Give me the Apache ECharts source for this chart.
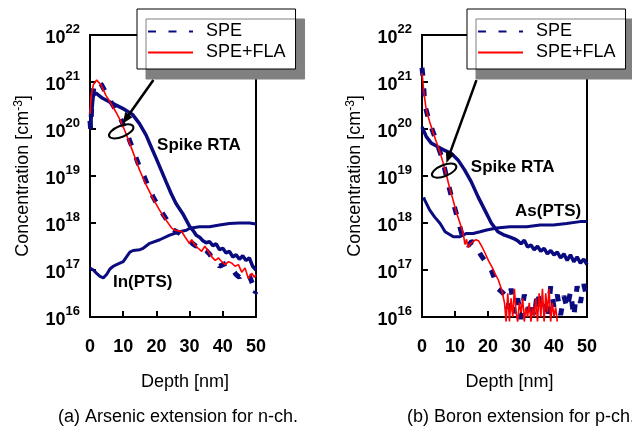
<!DOCTYPE html>
<html>
<head>
<meta charset="utf-8">
<script src="https://cdn.jsdelivr.net/npm/echarts@6/dist/echarts.min.js"></script>
<style>
  html, body { margin: 0; background: #fff; }
  #main { width: 632px; height: 427px; }
</style>
</head>
<body>
<div id="main"></div>
<script>
const FONT = '"Liberation Sans", Arial, sans-serif';
const NAVY = '#0b0b80';

const depthTicks = [0, 10, 20, 30, 40, 50];
const legendNames = ['SPE', 'SPE+FLA'];
const captions = ['(a) Arsenic extension for n-ch.', '(b) Boron extension for p-ch.'];

// (a) arsenic, depth [nm] vs concentration [cm-3]
const speA = [[0, 1.5e20], [0.2, 1e20], [0.6, 4e20], [1.2, 8e20], [2.3, 1.05e21], [3.5, 8.7e20], [5, 5.5e20], [6.5, 3.6e20], [8, 2.4e20], [9.5, 1.5e20], [11, 8.5e19], [13, 3.6e19], [15, 1.5e19], [16.4, 9.5e18], [17.5, 6e18], [19, 3.6e18], [21, 2e18], [23, 1.2e18], [24, 8.8e17], [25, 7.2e17], [26, 6.6e17], [27, 6e17], [28, 5.2e17], [29, 4.5e17], [30, 4.2e17], [31, 3.6e17], [32, 3.2e17], [33, 3.5e17], [34, 2.8e17], [35, 2.6e17], [36, 2.2e17], [37, 1.7e17], [38, 1.5e17], [39, 1.2e17], [40, 1.3e17], [41, 1.4e17], [42, 1.2e17], [43, 1e17], [44, 8e16], [45, 7e16], [46, 9e16], [47, 8e16], [48, 7.5e16], [49, 5e16], [49.5, 3e16], [50, 3.5e16]];
const flaA = [[0, 2.1e20], [0.3, 4.9e20], [1, 8.7e20], [2, 1.1e21], [3.3, 8.7e20], [4.8, 5.2e20], [6.3, 3.5e20], [7.8, 2.3e20], [9.3, 1.45e20], [10.8, 8.1e19], [12.9, 3.3e19], [14.9, 1.35e19], [16.9, 6.5e18], [18.9, 3.4e18], [20.9, 1.9e18], [22.9, 1.15e18], [24.6, 7.8e17], [25.6, 7e17], [26.6, 6.8e17], [27.6, 6.6e17], [28.6, 5.1e17], [29.1, 4.7e17], [29.9, 3.7e17], [30.6, 4.4e17], [31.6, 3.4e17], [32.6, 2.9e17], [33.6, 2.5e17], [34.6, 3.2e17], [35.6, 2.5e17], [36.7, 1.9e17], [37.7, 1.6e17], [38.7, 1.8e17], [39.7, 1.5e17], [40.7, 1.3e17], [41.7, 1.5e17], [42.7, 1.4e17], [43.7, 1.2e17], [44.7, 1.3e17], [45.7, 9e16], [46.7, 1.1e17], [47.7, 6.6e16], [48.7, 8.5e16], [49.5, 7e16], [50, 8e16]];
const spikeA = [[0.1, 1e20], [0.5, 2.2e20], [1, 5.2e20], [1.8, 5.8e20], [3.8, 4.5e20], [6.8, 3.5e20], [9.8, 2.75e20], [12.9, 2e20], [14.9, 1.3e20], [16.9, 7.4e19], [18.4, 4.2e19], [19.9, 2.4e19], [21.4, 1.35e19], [22.9, 7.6e18], [24.4, 4.3e18], [25.9, 2.6e18], [27.9, 1.6e18], [29, 1.15e18], [30, 8.5e17], [31, 7e17], [32, 5.5e17], [33, 5e17], [34, 4.2e17], [35, 3.8e17], [36, 4e17], [37, 3.3e17], [38, 3.6e17], [39, 2.7e17], [40, 2.9e17], [41, 2.3e17], [42, 2.5e17], [43, 1.9e17], [44, 2.1e17], [45, 1.7e17], [46, 2e17], [47, 1.6e17], [48, 1.8e17], [49, 1.2e17], [50, 1e17]];
const inPtsA = [[0, 1.1e17], [1, 1e17], [2, 8.5e16], [3, 7.3e16], [4, 6.8e16], [5, 8e16], [6, 1.05e17], [7, 1.2e17], [8, 1.3e17], [10, 1.5e17], [11, 1.9e17], [12, 2.4e17], [13, 2.6e17], [15, 2.7e17], [16, 2.9e17], [18, 3.7e17], [21, 4.4e17], [24, 5.5e17], [27, 6.5e17], [29, 7e17], [30, 7.7e17], [33, 8.3e17], [36, 8.3e17], [39, 9.1e17], [42, 9.8e17], [45, 1e18], [48, 1e18], [50, 9.5e17]];

// (b) boron
const speB = [[0, 2e21], [0.4, 1.1e21], [0.8, 3.5e20], [1.3, 2.5e20], [2, 1.6e20], [3, 1e20], [4, 6.5e19], [5, 4e19], [6, 2.5e19], [7, 1.3e19], [8, 6.5e18], [9, 3.5e18], [10, 2e18], [11, 1.1e18], [12, 6e17], [13, 4e17], [14, 3.3e17], [15, 4e17], [16, 3.8e17], [17, 2.6e17], [18, 2e17], [19, 1.6e17], [20, 1.3e17], [21, 1e17], [22, 6.5e16], [23, 4e16], [24, 3.5e16], [25, 3e16], [26, 1.5e16], [27, 4e16], [28, 1.2e16], [29, 2.5e16], [30, 9e15], [31, 3e16], [32, 1.3e16], [33, 2.2e16], [34, 1e16], [35, 3.5e16], [36, 1.5e16], [37, 2e16], [38, 9e15], [39, 4.5e16], [40, 1.6e16], [41, 3e16], [42, 1.1e16], [43, 2.8e16], [44, 1.5e16], [45, 3.5e16], [46, 1e16], [47, 4.5e16], [48, 2e16], [49, 5e16], [50, 2.5e16]];
const flaB = [[0, 1.55e21], [0.6, 5.8e20], [1.3, 2.5e20], [2.3, 1.45e20], [3.3, 8.7e19], [4.3, 5.4e19], [5.4, 3.3e19], [6.4, 1.9e19], [7.4, 1.05e19], [8.4, 5.5e18], [9.4, 3.1e18], [10.4, 1.7e18], [11.5, 1e18], [12.5, 6e17], [13, 3.5e17], [13.5, 4.5e17], [14, 3e17], [14.5, 3.5e17], [15.5, 4e17], [16.3, 4.4e17], [17.1, 4.2e17], [18.1, 3.2e17], [19.1, 2.3e17], [20.1, 1.6e17], [21.1, 1.2e17], [22.1, 8.5e16], [23.1, 6.2e16], [24.2, 3.7e16], [25, 2e16], [25.5, 8e15], [26, 3.2e16], [26.5, 8e15], [27, 2.5e16], [27.5, 1e16], [28, 4e16], [28.5, 1.25e16], [29, 8e15], [29.5, 2e16], [30, 1.25e16], [30.5, 2.5e16], [31, 8e15], [31.5, 1.6e16], [32, 1e16], [32.5, 2e16], [33, 8e15], [33.5, 1.6e16], [34, 1e16], [34.5, 2.5e16], [35, 8e15], [35.5, 3.2e16], [36, 1e16], [36.5, 4e16], [37, 8e15], [37.5, 3.2e16], [38, 1.25e16], [38.5, 4e16], [39, 8e15], [39.5, 2e16], [40, 1e16], [40.5, 1.6e16], [41, 8e15]];
const spikeB = [[0, 1.1e20], [1.3, 6.9e19], [2.8, 5e19], [4.8, 4.2e19], [6.9, 3.5e19], [8.9, 3e19], [10.9, 2.2e19], [12.9, 1.35e19], [14.9, 7.6e18], [17, 3.6e18], [19, 1.9e18], [21, 1e18], [23, 6.5e17], [25, 5.5e17], [26.7, 5e17], [28, 4.6e17], [29, 4.2e17], [30, 3.6e17], [31, 4.3e17], [32, 3.1e17], [33, 3.4e17], [34, 2.7e17], [35, 3.2e17], [36, 2.5e17], [37, 2.9e17], [38, 2.2e17], [39, 2.6e17], [40, 2.1e17], [41, 2.4e17], [42, 1.8e17], [43, 2.2e17], [44, 1.6e17], [45, 2.1e17], [46, 1.5e17], [47, 1.9e17], [48, 1.4e17], [49, 1.7e17], [50, 1.3e17]];
const asPtsB = [[0.5, 3.5e18], [0.8, 3.1e18], [2.3, 1.9e18], [3.8, 1.35e18], [5.5, 9.8e17], [7, 6.5e17], [9.5, 5.1e17], [11.5, 5.1e17], [13.5, 6e17], [15.5, 6e17], [17.6, 6.5e17], [19.6, 7.1e17], [22.6, 7.8e17], [26.7, 8.3e17], [31.7, 8.3e17], [35.8, 9.1e17], [39.8, 9.1e17], [43.8, 9.8e17], [47.9, 1.07e18], [50, 1.07e18]];

// annotations in data coordinates
const notes = [
  { grid: 0, text: 'Spike RTA', at: [20.2, 4.6e19] },
  { grid: 0, text: 'In(PTS)', at: [6.9, 5.5e16] },
  { grid: 1, text: 'Spike RTA', at: [14.8, 1.5e19] },
  { grid: 1, text: 'As(PTS)', at: [28.2, 1.8e18] }
];
const arrows = [
  { grid: 0, from: [19.1, 1.1e21], to: [9.8, 1.3e20], ring: [9.4, 8.9e19] },
  { grid: 1, from: [16.5, 1.1e21], to: [7.4, 1.9e19], ring: [6.7, 1.3e19] }
];

const chart = echarts.init(document.getElementById('main'), null, { renderer: 'canvas' });

const supRich = {
  b: { fontSize: 18, fontWeight: 'bold', fontFamily: FONT, color: '#000', lineHeight: 25, verticalAlign: 'bottom' },
  s: { fontSize: 13, fontWeight: 'bold', fontFamily: FONT, color: '#000', lineHeight: 25, verticalAlign: 'top' }
};

function xAxisFor(i, shift) {
  return {
    gridIndex: i, type: 'value', min: 0, max: 50, interval: 10,
    axisLine: { show: true, onZero: false, lineStyle: { color: '#000', width: 2 } },
    axisTick: { inside: true, length: 6, lineStyle: { color: '#000', width: 2 } },
    axisLabel: { margin: 21, fontSize: 18, fontWeight: 'bold', fontFamily: FONT, color: '#000',
      formatter: v => depthTicks.includes(v) ? String(v) : '' },
    splitLine: { show: false },
    name: 'Depth [nm]', nameLocation: 'middle', nameGap: 56,
    nameTextStyle: { fontSize: 18, fontFamily: FONT, color: '#000', padding: [0, 0, 0, shift] }
  };
}

function yAxisFor(i) {
  return {
    gridIndex: i, type: 'log', logBase: 10, min: 1e16, max: 1e22, splitNumber: 6,
    axisLine: { show: true, lineStyle: { color: '#000', width: 2 } },
    axisTick: { inside: true, length: 6, lineStyle: { color: '#000', width: 2 } },
    axisLabel: { margin: 10, formatter: v => '{b|10}{s|' + Math.round(Math.log10(v)) + '}', rich: supRich },
    splitLine: { show: false },
    name: 'Concentration [cm{s|-3}]', nameLocation: 'middle', nameRotate: 90, nameGap: 56,
    nameTextStyle: {
      fontSize: 18, fontFamily: FONT, color: '#000',
      rich: { s: { fontSize: 12, fontFamily: FONT, color: '#000', verticalAlign: 'top', lineHeight: 21 } }
    }
  };
}

function line(name, i, data, style, clip) {
  return {
    name, type: 'line', xAxisIndex: i, yAxisIndex: i, data,
    symbol: 'none', showSymbol: false, clip: clip !== false, animation: false,
    lineStyle: style, itemStyle: { color: style.color }
  };
}

const speStyle = { color: NAVY, width: 5, type: [8, 12.5], cap: 'butt' };
const flaStyle = { color: '#ff0000', width: 1.6 };
const spikeStyle = { color: NAVY, width: 3.5 };
const ptsStyle = { color: NAVY, width: 3 };

function legendAt(left) {
  return {
    data: legendNames, orient: 'vertical', left, top: 9,
    itemWidth: 45, itemHeight: 14, itemGap: 0,
    padding: [12, 10, 6, 10],
    backgroundColor: '#fff', borderColor: '#000', borderWidth: 1,
    shadowColor: '#808080', shadowBlur: 0, shadowOffsetX: 9, shadowOffsetY: 10,
    selectedMode: false,
    itemStyle: { color: 'transparent', borderColor: 'transparent', borderWidth: 0, opacity: 0 },
    textStyle: { fontSize: 18, fontFamily: FONT, color: '#000', lineHeight: 21, padding: [0, 0, 0, 8] }
  };
}

const captionStyle = { fontSize: 18, fontWeight: 'normal', fontFamily: FONT, color: '#000' };

const option = {
  animation: false,
  backgroundColor: '#fff',
  title: [
    { text: captions[0], left: 58, top: 408, padding: 0, textStyle: captionStyle },
    { text: captions[1], left: 407, top: 408, padding: 0, textStyle: captionStyle }
  ],
  legend: [legendAt(137), legendAt(467)],
  grid: [
    { left: 90, top: 35, width: 166, height: 282, show: true, borderColor: '#000', borderWidth: 2, backgroundColor: 'transparent' },
    { left: 422, top: 35, width: 165, height: 282, show: true, borderColor: '#000', borderWidth: 2, backgroundColor: 'transparent' }
  ],
  xAxis: [xAxisFor(0, 24), xAxisFor(1, 10)],
  yAxis: [yAxisFor(0), yAxisFor(1)],
  series: [
    line('Spike RTA (a)', 0, spikeA, spikeStyle),
    line('In(PTS)', 0, inPtsA, ptsStyle),
    line('SPE', 0, speA, speStyle),
    line('SPE+FLA', 0, flaA, flaStyle),
    line('Spike RTA (b)', 1, spikeB, spikeStyle),
    line('As(PTS)', 1, asPtsB, ptsStyle),
    line('SPE', 1, speB, speStyle, false),
    line('SPE+FLA', 1, flaB, flaStyle, false)
  ]
};

chart.setOption(option);

// annotations placed through the axes
const graphics = [];
notes.forEach(n => {
  const p = chart.convertToPixel({ gridIndex: n.grid }, n.at);
  graphics.push({
    type: 'text', x: p[0], y: p[1], z: 50,
    style: { text: n.text, font: 'bold 17px ' + FONT, fill: '#000', verticalAlign: 'middle', align: 'left' }
  });
});
arrows.forEach(a => {
  const s = chart.convertToPixel({ gridIndex: a.grid }, a.from);
  const t = chart.convertToPixel({ gridIndex: a.grid }, a.to);
  const c = chart.convertToPixel({ gridIndex: a.grid }, a.ring);
  const dx = t[0] - s[0], dy = t[1] - s[1];
  const len = Math.hypot(dx, dy), ux = dx / len, uy = dy / len;
  const head = 11, half = 4.5;
  const bx = t[0] - ux * head, by = t[1] - uy * head;
  graphics.push({
    type: 'line', z: 50,
    shape: { x1: s[0], y1: s[1], x2: bx + ux * 2, y2: by + uy * 2 },
    style: { stroke: '#000', lineWidth: 2.5 }
  });
  graphics.push({
    type: 'polygon', z: 50,
    shape: { points: [[t[0], t[1]], [bx - uy * half, by + ux * half], [bx + uy * half, by - ux * half]] },
    style: { fill: '#000' }
  });
  graphics.push({
    type: 'ellipse', z: 50, x: c[0], y: c[1], rotation: 0.38,
    shape: { cx: 0, cy: 0, rx: 13, ry: 5.5 },
    style: { stroke: '#000', fill: 'none', lineWidth: 2 }
  });
});
chart.setOption({ graphic: graphics });
</script>
</body>
</html>
